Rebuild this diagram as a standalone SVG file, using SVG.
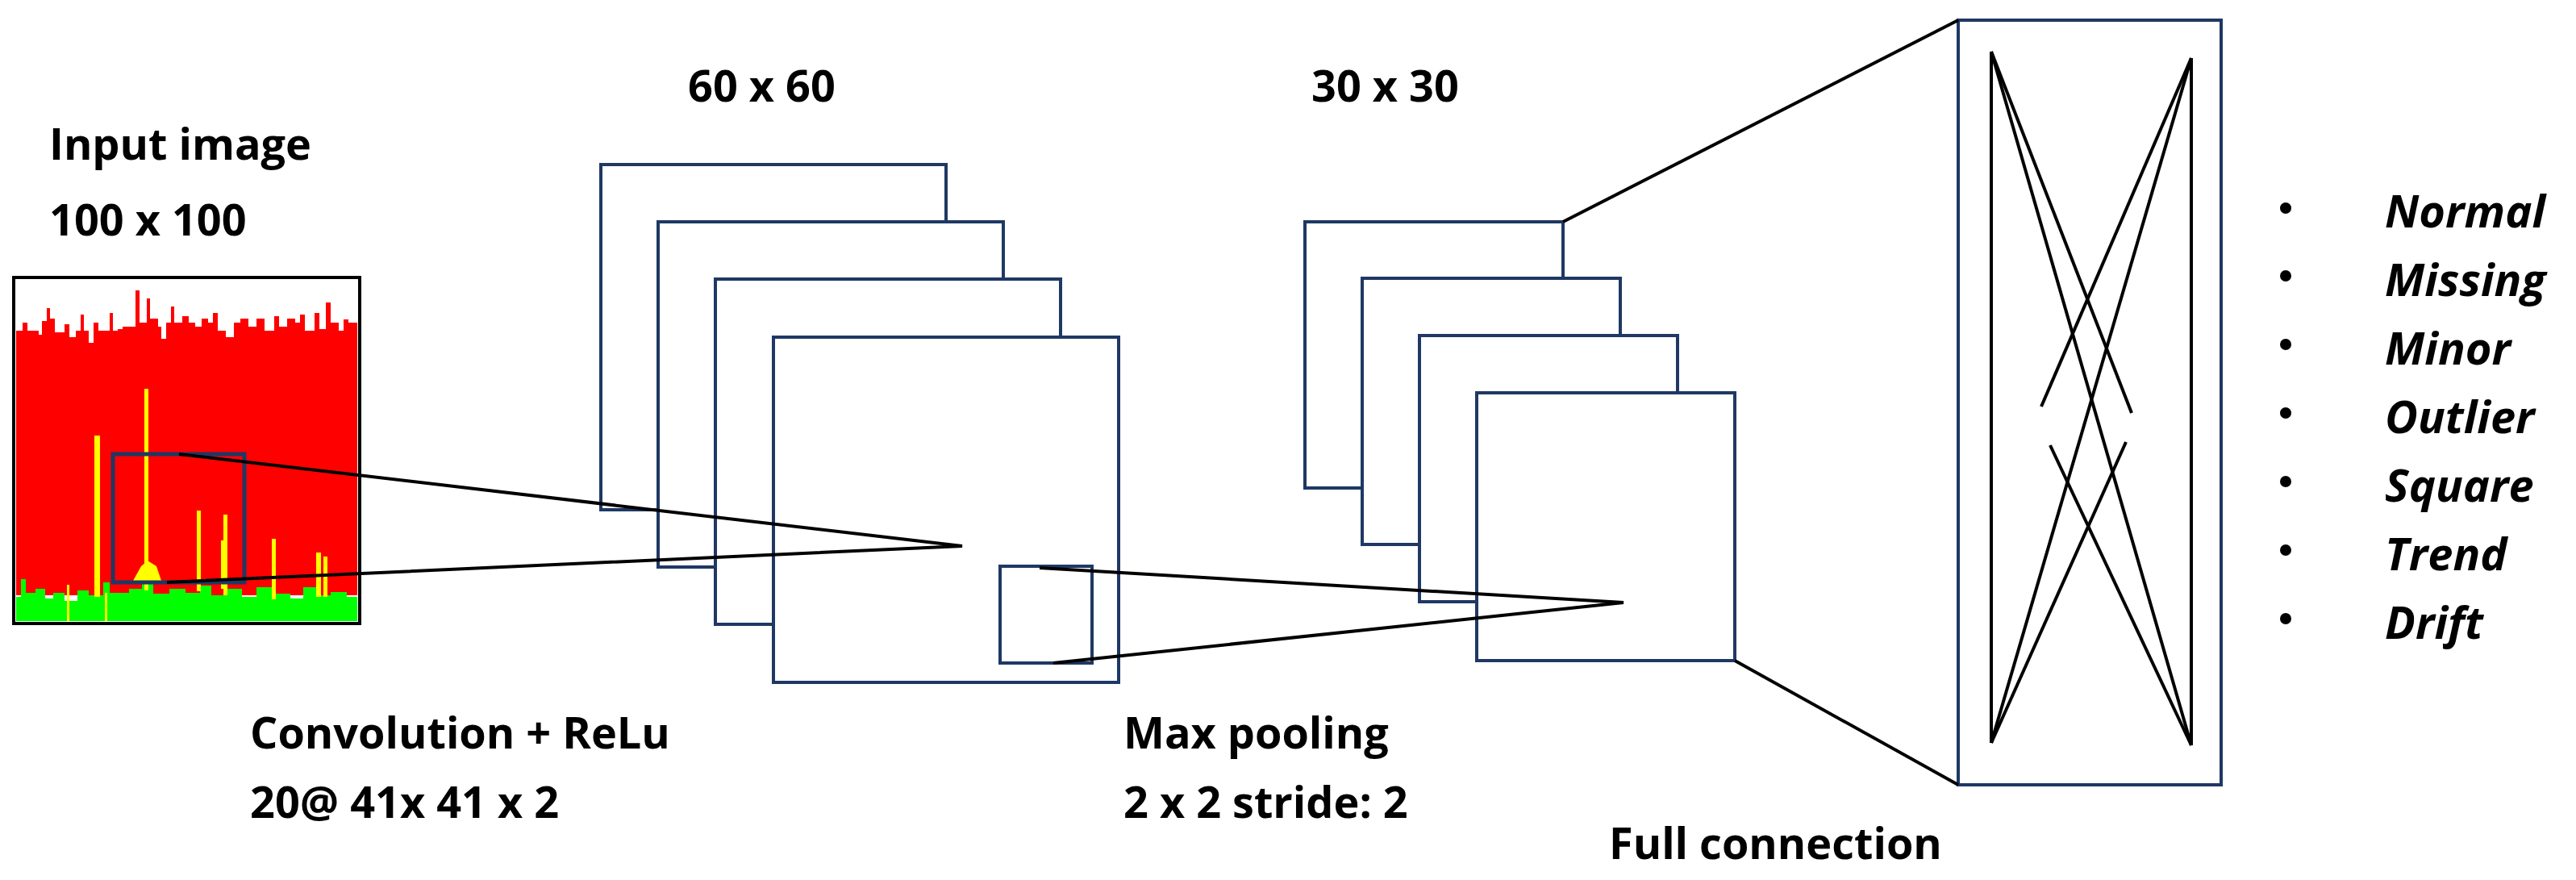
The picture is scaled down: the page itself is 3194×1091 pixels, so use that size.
<svg xmlns="http://www.w3.org/2000/svg" width="3194" height="1091" viewBox="0 0 3194 1091">
<style>
.t{font-family:"Open Sans","Liberation Sans",sans-serif;font-weight:bold;font-size:54px;fill:#000}
.c{font-family:"Open Sans","Liberation Sans",sans-serif;font-weight:bold;font-style:italic;font-size:56px;fill:#000}
.map{fill:#fff;stroke:#1f3864;stroke-width:4}
.ln{stroke:#000;stroke-width:4;fill:none}
</style>
<rect width="3194" height="1091" fill="#fff"/>
<g id="input">
<rect x="17" y="344" width="429" height="429" fill="#fff"/>
<path fill="#ff0000" d="M20,410 H28 V400 H34 V410 H48 V415 H52 V398 H58 V382 H62 V395 H68 V412 H80 V402 H86 V418 H94 V410 H100 V390 H104 V410 H110 V425 H116 V400 H122 V410 H136 V388 H140 V410 H146 V408 H152 V405 H168 V360 H173 V400 H182 V370 H186 V395 H196 V405 H200 V420 H206 V400 H212 V380 H216 V400 H226 V392 H234 V400 H242 V405 H250 V395 H258 V400 H264 V388 H270 V410 H280 V418 H290 V400 H298 V395 H308 V405 H318 V395 H328 V410 H340 V392 H346 V405 H356 V395 H366 V400 H372 V390 H378 V410 H390 V388 H396 V408 H404 V375 H410 V400 H420 V410 H426 V396 H432 V400 H443 V738 H20 Z"/>
<path fill="#00ff00" d="M20,740 H26 V718 H32 V735 H44 V730 H56 V742 H66 V735 H80 V745 H96 V732 H110 V738 H128 V722 H136 V735 H160 V730 H176 V724 H190 V736 H210 V730 H230 V735 H248 V726 H262 V738 H280 V730 H300 V740 H318 V728 H340 V736 H360 V742 H376 V728 H392 V738 H410 V734 H430 V740 H443 V770 H20 Z"/>
<g fill="#ffff00">
<rect x="117" y="540" width="7" height="200"/>
<rect x="179" y="482" width="5" height="250"/>
<path d="M165,720 L175,702 L183,695 L194,702 L200,720 Z"/>
<rect x="244" y="633" width="5" height="100"/>
<rect x="277" y="638" width="5" height="100"/>
<rect x="274" y="670" width="4" height="60"/>
<rect x="337" y="668" width="5" height="75"/>
<rect x="392" y="685" width="6" height="55"/>
<rect x="401" y="690" width="5" height="50"/>
<rect x="83" y="725" width="3" height="45"/>
<rect x="130" y="735" width="3" height="35"/>
</g>
<rect x="17" y="344" width="429" height="429" fill="none" stroke="#000" stroke-width="4"/>
<rect x="140" y="563" width="163" height="159" fill="none" stroke="#1f3864" stroke-width="5"/>
</g>
<g id="conv">
<rect class="map" x="745" y="204" width="428" height="428"/>
<rect class="map" x="816" y="275" width="428" height="428"/>
<rect class="map" x="887" y="346" width="428" height="428"/>
<rect class="map" x="959" y="418" width="428" height="428"/>
<rect class="map" x="1240" y="702" width="114" height="120" fill="none"/>
</g>
<g id="pool">
<rect class="map" x="1618" y="275" width="320" height="330"/>
<rect class="map" x="1689" y="345" width="320" height="330"/>
<rect class="map" x="1760" y="416" width="320" height="330"/>
<rect class="map" x="1831" y="487" width="320" height="332"/>
</g>
<g id="fc">
<rect class="map" x="2428" y="25" width="326" height="948"/>
<g class="ln">
<line x1="2469" y1="64" x2="2469" y2="921"/>
<line x1="2717" y1="72" x2="2717" y2="924"/>
<line x1="2469" y1="64" x2="2643" y2="512"/>
<line x1="2469" y1="64" x2="2717" y2="924"/>
<line x1="2717" y1="72" x2="2531" y2="504"/>
<line x1="2717" y1="72" x2="2469" y2="921"/>
<line x1="2469" y1="921" x2="2636" y2="548"/>
<line x1="2717" y1="924" x2="2542" y2="552"/>
</g>
</g>
<g id="connectors" class="ln">
<polyline points="222,563 1193,677 207,722"/>
<polyline points="1289,704 2013,747 1306,822"/>
<line x1="1938" y1="275" x2="2428" y2="25"/>
<line x1="2151" y1="819" x2="2428" y2="973"/>
</g>
<g id="labels">
<text class="t" x="61" y="198">Input image</text>
<text class="t" x="61" y="292">100 x 100</text>
<text class="t" x="853" y="126">60 x 60</text>
<text class="t" x="1626" y="126">30 x 30</text>
<text class="t" x="310" y="928">Convolution + ReLu</text>
<text class="t" x="310" y="1014">20@ 41x 41 x 2</text>
<text class="t" x="1393" y="928">Max pooling</text>
<text class="t" x="1393" y="1014">2 x 2 stride: 2</text>
<text class="t" x="1995" y="1065">Full connection</text>
</g>
<g id="classes">
<g fill="#000">
<circle cx="2834" cy="258" r="7"/><circle cx="2834" cy="342" r="7"/><circle cx="2834" cy="427" r="7"/>
<circle cx="2834" cy="512" r="7"/><circle cx="2834" cy="597" r="7"/><circle cx="2834" cy="682" r="7"/><circle cx="2834" cy="767" r="7"/>
</g>
<text class="c" x="2957" y="282">Normal</text>
<text class="c" x="2957" y="367">Missing</text>
<text class="c" x="2957" y="452">Minor</text>
<text class="c" x="2957" y="537">Outlier</text>
<text class="c" x="2957" y="622">Square</text>
<text class="c" x="2957" y="707">Trend</text>
<text class="c" x="2957" y="792">Drift</text>
</g>
</svg>
